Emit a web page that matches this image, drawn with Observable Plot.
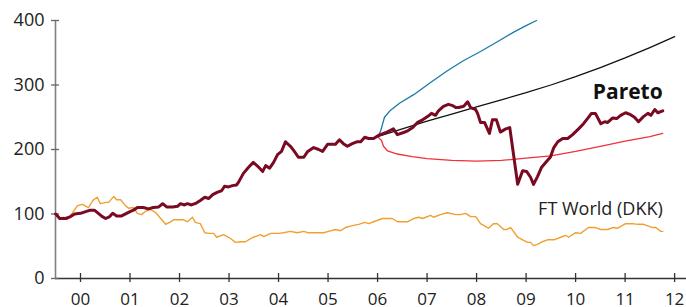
<!DOCTYPE html>
<html><head><meta charset="utf-8">
<script src="https://cdn.jsdelivr.net/npm/d3@7"></script>
<script src="https://cdn.jsdelivr.net/npm/@observablehq/plot@0.6"></script>
<style>body{margin:0;background:#fff;}</style>
</head><body><div id="chart"></div>
<script>
// Pareto index (decimal years, values)
const paretoT = [1999.50,1999.58,1999.70,1999.80,1999.88,2000.00,2000.12,2000.20,2000.28,2000.36,2000.44,2000.51,2000.59,2000.65,2000.73,2000.83,2000.93,2001.01,2001.07,2001.15,2001.27,2001.37,2001.47,2001.58,2001.66,2001.74,2001.86,2001.96,2002.02,2002.10,2002.16,2002.24,2002.34,2002.42,2002.51,2002.59,2002.67,2002.77,2002.85,2002.91,2002.99,2003.07,2003.15,2003.19,2003.29,2003.39,2003.49,2003.58,2003.68,2003.74,2003.82,2003.90,2003.98,2004.06,2004.14,2004.24,2004.32,2004.40,2004.51,2004.59,2004.71,2004.81,2004.89,2004.99,2005.15,2005.23,2005.31,2005.39,2005.49,2005.58,2005.66,2005.74,2005.82,2005.92,2006.00,2006.16,2006.32,2006.40,2006.51,2006.61,2006.71,2006.81,2006.91,2007.01,2007.09,2007.17,2007.23,2007.33,2007.43,2007.52,2007.58,2007.64,2007.74,2007.82,2007.88,2007.98,2008.02,2008.08,2008.16,2008.26,2008.32,2008.40,2008.48,2008.59,2008.67,2008.83,2008.93,2009.01,2009.09,2009.15,2009.23,2009.31,2009.43,2009.49,2009.56,2009.64,2009.74,2009.84,2009.94,2010.06,2010.16,2010.24,2010.32,2010.40,2010.51,2010.59,2010.65,2010.75,2010.83,2010.91,2011.01,2011.11,2011.19,2011.27,2011.37,2011.46,2011.52,2011.60,2011.66,2011.76];
const paretoV = [100,93,93,96,100,101,104,106,106,101,96,93,96,101,97,97,101,104,106,110,110,108,110,111,116,111,111,112,116,114,116,114,117,121,126,124,130,134,136,143,142,144,145,149,163,172,180,174,166,175,171,180,192,197,212,205,197,188,188,197,203,200,197,208,208,215,209,205,209,212,212,219,217,217,221,226,232,223,226,229,234,242,246,251,256,253,260,267,270,268,265,265,267,274,265,262,256,242,242,225,246,246,227,232,234,146,167,166,157,146,158,172,183,188,203,212,217,217,223,232,240,248,256,256,240,243,242,249,248,253,257,254,250,243,251,256,253,262,257,260];

// FT World (DKK)
const ftT = [1999.50,1999.60,1999.66,1999.74,1999.84,1999.94,2000.04,2000.16,2000.26,2000.34,2000.40,2000.51,2000.57,2000.67,2000.73,2000.81,2000.91,2000.97,2001.07,2001.15,2001.23,2001.31,2001.41,2001.52,2001.62,2001.72,2001.80,2001.88,2001.98,2002.08,2002.16,2002.26,2002.32,2002.42,2002.51,2002.59,2002.69,2002.75,2002.89,2003.03,2003.13,2003.23,2003.33,2003.49,2003.64,2003.70,2003.84,2004.00,2004.10,2004.24,2004.38,2004.51,2004.59,2004.91,2005.01,2005.15,2005.25,2005.35,2005.49,2005.62,2005.74,2005.82,2005.92,2006.10,2006.30,2006.40,2006.61,2006.73,2006.83,2006.91,2007.07,2007.13,2007.27,2007.41,2007.58,2007.68,2007.78,2007.88,2007.98,2008.08,2008.24,2008.34,2008.42,2008.55,2008.61,2008.69,2008.83,2008.93,2009.03,2009.09,2009.15,2009.23,2009.33,2009.43,2009.56,2009.70,2009.80,2009.86,2010.00,2010.10,2010.26,2010.40,2010.51,2010.65,2010.75,2010.85,2011.01,2011.15,2011.25,2011.37,2011.56,2011.62,2011.72,2011.76];
const ftV = [98,93,95,92,102,113,115,110,122,126,116,118,118,127,122,122,113,109,110,101,99,104,107,102,93,84,87,91,91,91,88,95,87,85,71,70,70,64,68,62,56,57,57,64,68,65,70,70,71,73,71,73,71,71,73,76,74,79,82,84,87,85,88,93,93,88,88,93,95,93,98,95,99,102,99,99,101,96,96,85,78,85,85,76,76,79,64,60,56,56,51,53,57,60,60,64,67,64,71,70,79,79,76,76,79,78,85,85,84,84,79,79,73,73];

// Projection lines from 2006
const blackT = [2006.0,2006.5,2007.0,2007.5,2008.0,2008.5,2009.0,2009.5,2010.0,2010.5,2011.0,2011.5,2012.0];
const blackV = [220,232,244,255,266,277,288,300,313,327,342,358,375];
const blueT = [2006.00,2006.06,2006.14,2006.25,2006.45,2006.73,2007.07,2007.41,2007.74,2008.08,2008.42,2008.75,2009.00,2009.21];
const blueV = [220,228,250,260,272,285,304,322,338,352,367,382,392,400];
const redT = [2006.00,2006.08,2006.12,2006.20,2006.40,2006.70,2007.00,2007.50,2008.00,2008.50,2008.80,2009.05,2009.50,2010.00,2010.50,2011.00,2011.50,2011.76];
const redV = [220,214,205,198,193,189,186,183,182,183,185,187,190,197,205,213,220,225];

// Axes
const xTicks = [2000,2001,2002,2003,2004,2005,2006,2007,2008,2009,2010,2011,2012];
const xTickLabels = ["00","01","02","03","04","05","06","07","08","09","10","11","12"];
const yTicks = [0,100,200,300,400];
const xStart = 1999.495, xEnd = 2012.24;

// Labels
const labelNames = ["Pareto", "FT World (DKK)"];
const labelT = [2011.76, 2011.76];
const labelV = [288, 107];

const rows = (t, v) => t.map((d, i) => ({t: d, v: v[i]}));

const chart = Plot.plot({
  width: 686, height: 307,
  marginLeft: 55, marginRight: 0, marginTop: 20, marginBottom: 29,
  x: {domain: [xStart, xEnd], label: null},
  y: {domain: [0, 400], label: null},
  style: {fontFamily: "'Open Sans', sans-serif", fontSize: "17px", color: "#222", background: "#fff"},
  marks: [
    Plot.axisX(xTicks, {tickSize: 0, tickPadding: 14, fontSize: 17, label: null, tickFormat: d => xTickLabels[xTicks.indexOf(d)], fill: "#222"}),
    Plot.axisY(yTicks, {tickSize: 0, tickPadding: 11, fontSize: 18, label: null, fill: "#222"}),
    Plot.ruleY([0], {stroke: "#333", strokeWidth: 1.3}),
    Plot.ruleX([xStart], {stroke: "#808080", strokeWidth: 1.6}),
    Plot.ruleX(xTicks, {x: d => d, y1: 0, y2: 0, insetTop: -5, insetBottom: -4, stroke: "#333", strokeWidth: 1.3}),
    Plot.ruleY(yTicks, {y: d => d, x1: xStart, x2: xStart, insetLeft: -4, insetRight: -4, stroke: "#666", strokeWidth: 1.3}),
    Plot.line(rows(ftT, ftV), {x: "t", y: "v", stroke: "#f0a030", strokeWidth: 1.4}),
    Plot.line(rows(redT, redV), {x: "t", y: "v", stroke: "#f0313a", strokeWidth: 1.3}),
    Plot.line(rows(blueT, blueV), {x: "t", y: "v", stroke: "#1b7aa6", strokeWidth: 1.3}),
    Plot.line(rows(blackT, blackV), {x: "t", y: "v", stroke: "#111", strokeWidth: 1.3}),
    Plot.line(rows(paretoT, paretoV), {x: "t", y: "v", stroke: "#7a0a22", strokeWidth: 3, strokeLinejoin: "round"}),
    Plot.text([0], {x: labelT[0], y: labelV[0], text: () => labelNames[0], textAnchor: "end", fontWeight: "bold", fontSize: 21, fill: "#111"}),
    Plot.text([1], {x: labelT[1], y: labelV[1], text: () => labelNames[1], textAnchor: "end", fontSize: 18, fill: "#222"})
  ]
});
document.getElementById("chart").appendChild(chart);
</script>
</body></html>
